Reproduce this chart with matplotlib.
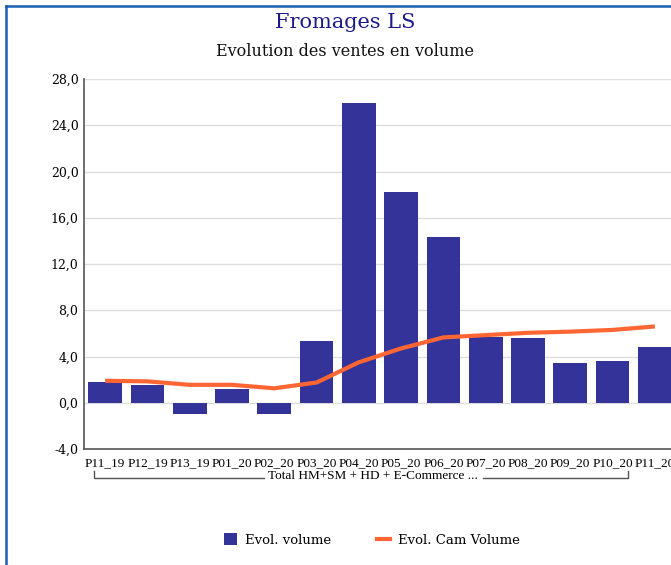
import matplotlib.pyplot as plt
from matplotlib.lines import Line2D
from matplotlib.patches import Patch

# données
periodes = ["P11_19", "P12_19", "P13_19", "P01_20", "P02_20", "P03_20", "P04_20",
            "P05_20", "P06_20", "P07_20", "P08_20", "P09_20", "P10_20", "P11_20"]
evol_volume = [1.8, 1.55, -1.0, 1.2, -1.0, 5.3, 25.9, 18.25, 14.35, 5.7, 5.6, 3.45, 3.6, 4.85]
evol_cam = [1.9, 1.85, 1.55, 1.55, 1.25, 1.75, 3.5, 4.7, 5.65, 5.85, 6.05, 6.15, 6.3, 6.6]
y_ticks = [-4, 0, 4, 8, 12, 16, 20, 24, 28]
groupe = "Total HM+SM + HD + E-Commerce ..."

BAR_COLOR = "#333399"
LINE_COLOR = "#FF6633"
FRAME_COLOR = "#1a5fb4"

W, H = 671, 565
fig = plt.figure(figsize=(W / 100, H / 100), dpi=100)

# axe qui déborde à droite comme sur l'original
ax = fig.add_axes([84 / W, 1 - 449 / H, (676 - 84) / W, 370 / H])
x = list(range(len(periodes)))
ax.bar(x, evol_volume, width=0.8, color=BAR_COLOR, zorder=2)
ax.plot(x, evol_cam, color=LINE_COLOR, lw=3, zorder=3, solid_capstyle="butt")

ax.set_xlim(-0.5, len(periodes) - 0.5)
ax.set_ylim(-4, 28)
ax.set_yticks(y_ticks)
ax.set_yticklabels([f"{v:.1f}".replace(".", ",") for v in y_ticks],
                   fontfamily="DejaVu Serif", fontsize=9)
ax.set_xticks(x)
ax.set_xticklabels(periodes, fontfamily="Liberation Serif", fontsize=9.5)
ax.tick_params(axis="y", length=0, pad=4)
ax.tick_params(axis="x", length=0, pad=6)
ax.grid(axis="y", color="#dddddd", lw=1, zorder=0)
ax.set_axisbelow(True)
for s in ["top", "right"]:
    ax.spines[s].set_visible(False)
for s in ["left", "bottom"]:
    ax.spines[s].set_color("#555555")
    ax.spines[s].set_linewidth(1.2)

# titres
fig.text(345 / W, 1 - 23 / H, "Fromages LS", ha="center", va="center",
         fontfamily="DejaVu Serif", fontsize=15, color="#1a1a8c")
fig.text(345 / W, 1 - 52 / H, "Evolution des ventes en volume", ha="center", va="center",
         fontfamily="DejaVu Serif", fontsize=11.5, color="#111111")

# accolade du groupe de catégories (deux segments autour du texte)
yb = 1 - 478 / H
yt = 1 - 471 / H
fig.add_artist(Line2D([94 / W, 94 / W, 264 / W], [yt, yb, yb], color="#555555", lw=1))
fig.add_artist(Line2D([483 / W, 628 / W, 628 / W], [yb, yb, yt], color="#555555", lw=1))
fig.text(373 / W, 1 - 476 / H, groupe, ha="center", va="center",
         fontfamily="Liberation Serif", fontsize=9.5)

# légende
handles = [Patch(facecolor=BAR_COLOR, label="Evol. volume"),
           Line2D([], [], color=LINE_COLOR, lw=3, label="Evol. Cam Volume")]
fig.legend(handles=handles, loc="center", bbox_to_anchor=(372 / W, 1 - 540 / H),
           ncol=2, frameon=False, prop={"family": "DejaVu Serif", "size": 9.5},
           handlelength=1.0, handleheight=1.0, columnspacing=3.5, handletextpad=0.6)

# cadre bleu
fig.add_artist(Line2D([5.5 / W, 5.5 / W], [0, 1 - 5.5 / H], color=FRAME_COLOR, lw=1.8))
fig.add_artist(Line2D([5.5 / W, 1], [1 - 5.5 / H, 1 - 5.5 / H], color=FRAME_COLOR, lw=1.8))

fig.savefig("out.png", dpi=100)
